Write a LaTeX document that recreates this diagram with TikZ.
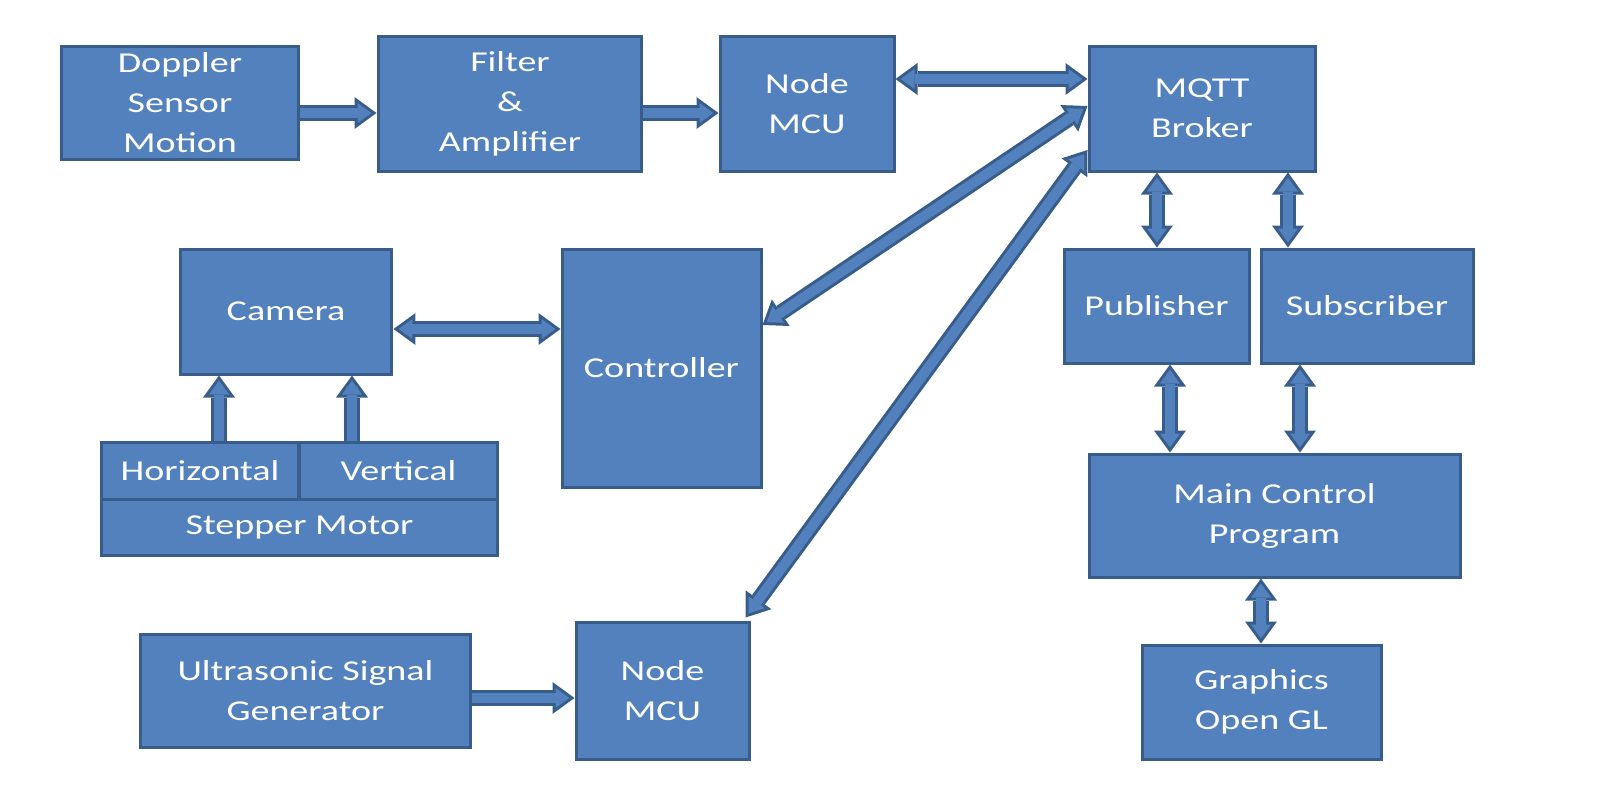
\documentclass[tikz,border=0pt]{standalone}
\usepackage{fontspec}
\setmainfont{Carlito}[FakeStretch=1.32]
\usetikzlibrary{positioning,arrows.meta,calc,backgrounds}

\definecolor{boxfill}{HTML}{5281BD}
\definecolor{boxline}{HTML}{385D8A}

\tikzset{
  blok/.style={draw=boxline, fill=boxfill, line width=0.3mm, text=white, align=center,
    inner sep=0pt, font=\fontsize{8.2}{11.4}\selectfont},
  arrowout/.style={draw=boxline, line width=1.6mm},
  arrowin/.style={draw=boxfill, line width=1.0mm},
}

% block arrow: dark outline, light core
\newcommand{\onearrow}[2]{%
  \draw[arrowout,-{Triangle[length=2.2mm,width=3.2mm,line width=0pt]}] #1 -- #2;
  \draw[arrowin,-{Triangle[length=1.39mm,width=2.02mm,line width=0pt]},shorten >=0.51mm] #1 -- #2;}
\newcommand{\twoarrow}[2]{%
  \draw[arrowout,{Triangle[length=2.2mm,width=3.2mm,line width=0pt]}-{Triangle[length=2.2mm,width=3.2mm,line width=0pt]}] #1 -- #2;
  \draw[arrowin,{Triangle[length=1.39mm,width=2.02mm,line width=0pt]}-{Triangle[length=1.39mm,width=2.02mm,line width=0pt]},
    shorten >=0.51mm, shorten <=0.51mm] #1 -- #2;}

\begin{document}
\begin{tikzpicture}[x=0.1mm, y=-0.1mm]
    \useasboundingbox (0,0) rectangle (1602,792);

    % Sensor chain
    \node[blok, minimum width=23.8mm, minimum height=11.3mm] (dop) at (180,102.5) {Doppler\\Sensor\\Motion};
    \node[blok, minimum width=26.4mm, minimum height=13.5mm] (filt) at (510,103.5) {Filter\\\&\\Amplifier};
    \node[blok, minimum width=17.4mm, minimum height=13.5mm] (mcua) at (807,103.5) {Node\\MCU};
    \node[blok, minimum width=22.6mm, minimum height=12.5mm] (mqtt) at (1202,108.5) {MQTT\\Broker};

    % Camera part
    \node[blok, minimum width=21.2mm, minimum height=12.5mm] (cam) at (286,311.5) {Camera};
    \node[blok, minimum width=19.9mm, minimum height=23.8mm] (ctrl) at (661.5,368) {Controller};
    \node[blok, minimum width=19.8mm, minimum height=5.7mm] (hor) at (200,470.5) {Horizontal};
    \node[blok, minimum width=19.9mm, minimum height=5.7mm] (ver) at (398.5,470.5) {Vertical};
    \node[blok, minimum width=39.7mm, minimum height=5.6mm] (step) at (299.5,527) {Stepper Motor};

    % Ultrasonic part
    \node[blok, minimum width=33.1mm, minimum height=11.3mm] (ultra) at (305.5,690.5) {Ultrasonic Signal\\Generator};
    \node[blok, minimum width=17.3mm, minimum height=13.7mm] (mcub) at (662.5,690.5) {Node\\MCU};

    % Broker side
    \node[blok, minimum width=18.5mm, minimum height=11.4mm] (pub) at (1156.5,306) {Publisher};
    \node[blok, minimum width=21.2mm, minimum height=11.4mm] (sub) at (1367,306) {Subscriber};
    \node[blok, minimum width=37.1mm, minimum height=12.3mm] (main) at (1274.5,515.5) {Main Control\\Program};
    \node[blok, minimum width=23.9mm, minimum height=11.4mm] (gfx) at (1261.5,702) {Graphics\\Open GL};

    % Arrows
    \begin{scope}[on background layer]
    \onearrow{(dop.east |- 0,113)}{(filt.west |- 0,113)}
    \onearrow{(filt.east |- 0,113)}{(mcua.west |- 0,113)}
    \twoarrow{(mcua.east |- 0,79)}{(mqtt.west |- 0,79)}
    \twoarrow{(ctrl.east |- 0,325)}{(mqtt.west |- 0,106)}
    \twoarrow{($(mcub.north east)+(-5,-3)$)}{(mqtt.west |- 0,150)}
    \twoarrow{(cam.east |- 0,329)}{(ctrl.west |- 0,329)}
    \onearrow{(hor.north -| 219,0)}{(cam.south -| 219,0)}
    \onearrow{(ver.north -| 352,0)}{(cam.south -| 352,0)}
    \twoarrow{(mqtt.south -| 1157,0)}{(pub.north -| 1157,0)}
    \twoarrow{(mqtt.south -| 1288,0)}{(sub.north -| 1288,0)}
    \twoarrow{(pub.south -| 1170,0)}{(main.north -| 1170,0)}
    \twoarrow{(sub.south -| 1300,0)}{(main.north -| 1300,0)}
    \twoarrow{(main.south -| 1261,0)}{(gfx.north -| 1261,0)}
    \onearrow{(ultra.east |- 0,698)}{(mcub.west |- 0,698)}
    \end{scope}
\end{tikzpicture}
\end{document}
